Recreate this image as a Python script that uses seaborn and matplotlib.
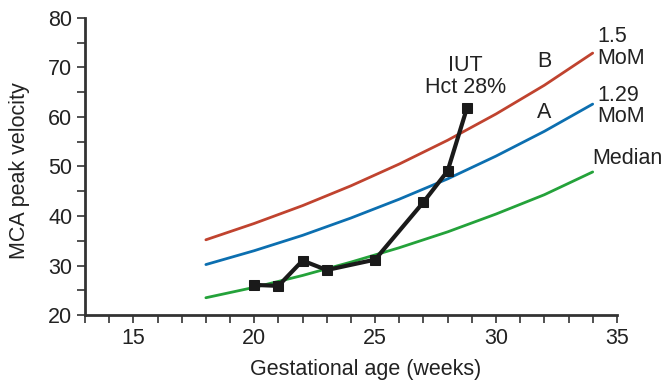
import matplotlib
matplotlib.use("Agg")
import matplotlib.pyplot as plt
import seaborn as sns
import pandas as pd
from matplotlib.ticker import MultipleLocator

# Reference curves
weeks_ref = [18, 20, 22, 24, 26, 28, 30, 32, 34]
median_vals = [23.5, 25.6, 28.0, 30.7, 33.6, 36.8, 40.4, 44.3, 48.9]
mom129_vals = [30.2, 33.0, 36.1, 39.6, 43.4, 47.5, 52.1, 57.1, 62.6]
mom15_vals = [35.2, 38.5, 42.1, 46.1, 50.5, 55.3, 60.6, 66.4, 72.9]

# Patient measurements
weeks_pt = [20, 21, 22, 23, 25, 27, 28, 28.8]
mca_pt = [26.1, 25.9, 31.0, 29.1, 31.2, 42.8, 49.1, 61.8]

x_ticks = [15, 20, 25, 30, 35]
y_ticks = [20, 30, 40, 50, 60, 70, 80]

sns.set_theme(style="ticks")
plt.rcParams['font.family'] = ['Liberation Sans', 'DejaVu Sans']

fig = plt.figure(figsize=(6.64, 3.81), dpi=100)
ax = fig.add_axes([0.128, 0.173, 0.801, 0.780])

ref = pd.DataFrame({"week": weeks_ref, "median": median_vals,
                    "m129": mom129_vals, "m15": mom15_vals})
pt = pd.DataFrame({"week": weeks_pt, "mca": mca_pt})

sns.lineplot(data=ref, x="week", y="m15", color="#c0432f", lw=2, ax=ax)
sns.lineplot(data=ref, x="week", y="m129", color="#0c6fb0", lw=2, ax=ax)
sns.lineplot(data=ref, x="week", y="median", color="#24a23a", lw=2, ax=ax)
sns.lineplot(data=pt, x="week", y="mca", color="#1a1a1a", lw=3, marker="s",
             markersize=7, markeredgecolor="#1a1a1a", ax=ax)

ax.set_xlim(13, 35)
ax.set_ylim(20, 80)
ax.set_xticks(x_ticks)
ax.set_yticks(y_ticks)
ax.xaxis.set_minor_locator(MultipleLocator(1))
ax.yaxis.set_minor_locator(MultipleLocator(5))
for s in ["top", "right"]:
    ax.spines[s].set_visible(False)
for s in ["left", "bottom"]:
    ax.spines[s].set_linewidth(2)
    ax.spines[s].set_color("#333333")
fs = 15.5
ax.tick_params(which="both", direction="out", length=6, width=1.2,
               color="#333333", labelsize=fs, labelcolor="#222222", pad=3)
ax.set_xlabel("Gestational age (weeks)", fontsize=fs, color="#222222")
ax.set_ylabel("MCA peak velocity", fontsize=fs, color="#222222")
ax.xaxis.set_label_coords(0.528, -0.148)
ax.yaxis.set_label_coords(-0.104, 0.485)

tk = dict(fontsize=fs, color="#222222")
ax.text(34.2, 74.1, "1.5\nMoM", ha="left", va="center", linespacing=1.05, **tk)
ax.text(34.2, 62.2, "1.29\nMoM", ha="left", va="center", linespacing=1.05, **tk)
ax.text(34.0, 51.7, "Median", ha="left", va="center", **tk)
ax.text(32.0, 71.1, "B", ha="center", va="center", **tk)
ax.text(32.0, 61.0, "A", ha="center", va="center", **tk)
ax.text(28.75, 68.1, "IUT\nHct 28%", ha="center", va="center", linespacing=1.05, **tk)

fig.savefig("out.png", dpi=100)
